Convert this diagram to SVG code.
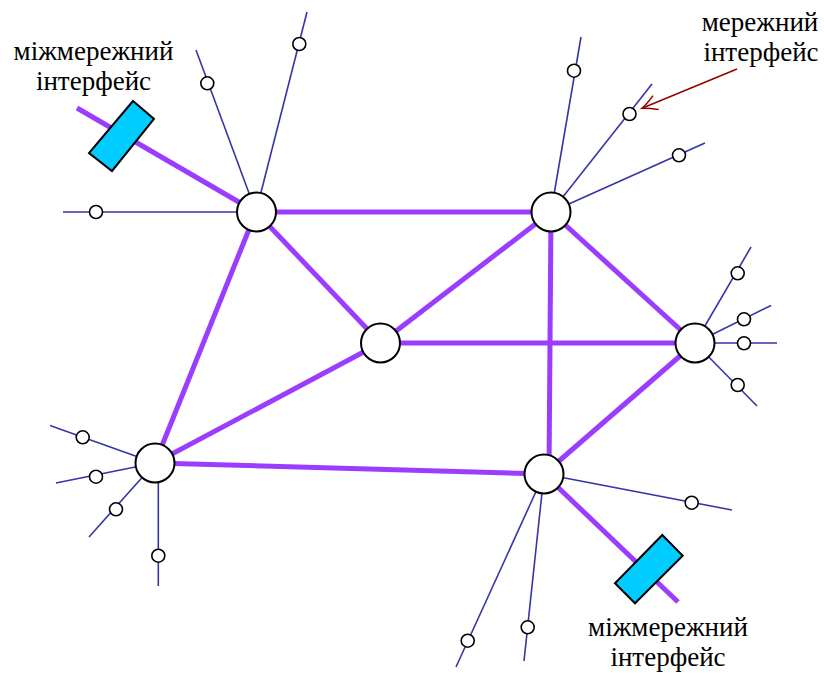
<svg xmlns="http://www.w3.org/2000/svg" width="824" height="673" viewBox="0 0 824 673">
<defs>
<style>
.trunk{stroke:#9b3dff;stroke-width:5;fill:none;stroke-linecap:butt}
.branch{stroke:#3535a8;stroke-width:1.6;fill:none}
.hub{fill:#fff;stroke:#000;stroke-width:2}
.leaf{fill:#fff;stroke:#000;stroke-width:1.6}
.gw{fill:#00ccff;stroke:#000;stroke-width:2}
.ptr{stroke:#990000;stroke-width:1.6;fill:none}
</style>
<marker id="ah" markerUnits="userSpaceOnUse" viewBox="-18 -10 20 20" refX="0" refY="0" markerWidth="20" markerHeight="20" orient="auto" overflow="visible">
<path d="M-15,-7.5 Q-5,-1.5 0,0 Q-5,1.5 -15,7.5" fill="none" stroke="#990000" stroke-width="1.6"/>
</marker>
</defs>
<rect width="824" height="673" fill="#fff"/>
<g id="connectors">
<line class="trunk" x1="256" y1="212" x2="551" y2="212"/>
<line class="trunk" x1="256" y1="212" x2="380.5" y2="343"/>
<line class="trunk" x1="256" y1="212" x2="155" y2="463"/>
<line class="trunk" x1="551" y1="212" x2="380.5" y2="343"/>
<line class="trunk" x1="551" y1="212" x2="695" y2="343"/>
<line class="trunk" x1="551" y1="212" x2="549" y2="474"/>
<line class="trunk" x1="380.5" y1="343" x2="695" y2="343"/>
<line class="trunk" x1="380.5" y1="343" x2="155" y2="463"/>
<line class="trunk" x1="155" y1="463" x2="544" y2="474"/>
<line class="trunk" x1="544" y1="474" x2="695" y2="343"/>
<line class="trunk" x1="256" y1="212" x2="77" y2="108"/>
<line class="trunk" x1="544" y1="474" x2="678" y2="602"/>
<line class="branch" x1="256" y1="212" x2="196" y2="50"/>
<line class="branch" x1="256" y1="212" x2="307" y2="12"/>
<line class="branch" x1="256" y1="212" x2="63" y2="212"/>
<line class="branch" x1="551" y1="212" x2="581" y2="37"/>
<line class="branch" x1="551" y1="212" x2="652" y2="84"/>
<line class="branch" x1="551" y1="212" x2="705" y2="143"/>
<line class="branch" x1="695" y1="343" x2="751" y2="247"/>
<line class="branch" x1="695" y1="343" x2="771" y2="305.5"/>
<line class="branch" x1="695" y1="343" x2="777" y2="343"/>
<line class="branch" x1="695" y1="343" x2="757" y2="406"/>
<line class="branch" x1="155" y1="463" x2="50" y2="425.5"/>
<line class="branch" x1="155" y1="463" x2="56" y2="483"/>
<line class="branch" x1="155" y1="463" x2="89" y2="537"/>
<line class="branch" x1="158.3" y1="470" x2="158.3" y2="586"/>
<line class="branch" x1="544" y1="474" x2="732" y2="510"/>
<line class="branch" x1="544" y1="474" x2="456" y2="667"/>
<line class="branch" x1="544" y1="474" x2="524" y2="661"/>
<line class="ptr" x1="737" y1="69" x2="642" y2="108.3" marker-end="url(#ah)"/>
</g>
<g id="gateway-top"><polygon class="gw" points="133,101 154,119 112,171 89,153"/></g>
<g id="gateway-bottom"><polygon class="gw" points="662.3,535 682.7,555.7 635,603.3 615,583.3"/></g>
<g id="hub-a"><circle class="hub" cx="256.5" cy="212" r="19.5"/></g>
<g id="hub-b"><circle class="hub" cx="551" cy="212" r="19.5"/></g>
<g id="hub-c"><circle class="hub" cx="380.5" cy="343" r="19.5"/></g>
<g id="hub-d"><circle class="hub" cx="695" cy="343" r="19.5"/></g>
<g id="hub-e"><circle class="hub" cx="155" cy="463" r="19.5"/></g>
<g id="hub-f"><circle class="hub" cx="544" cy="474" r="19.5"/></g>
<g id="leaves">
<circle class="leaf" cx="207.3" cy="83.3" r="6.5"/>
<circle class="leaf" cx="299.3" cy="44" r="6.5"/>
<circle class="leaf" cx="96" cy="212" r="6.5"/>
<circle class="leaf" cx="574" cy="70.7" r="6.5"/>
<circle class="leaf" cx="629.5" cy="114" r="6.5"/>
<circle class="leaf" cx="679" cy="155.3" r="6.5"/>
<circle class="leaf" cx="737.7" cy="273.3" r="6.5"/>
<circle class="leaf" cx="744" cy="319.3" r="6.5"/>
<circle class="leaf" cx="744" cy="343.3" r="6.5"/>
<circle class="leaf" cx="737.7" cy="385" r="6.5"/>
<circle class="leaf" cx="82.7" cy="437.3" r="6.5"/>
<circle class="leaf" cx="96" cy="476.7" r="6.5"/>
<circle class="leaf" cx="116" cy="509.3" r="6.5"/>
<circle class="leaf" cx="158.3" cy="555.7" r="6.5"/>
<circle class="leaf" cx="691.7" cy="502.7" r="6.5"/>
<circle class="leaf" cx="467.7" cy="640.7" r="6.5"/>
<circle class="leaf" cx="527.7" cy="627.3" r="6.5"/>
</g>
<g font-family="'Liberation Serif', 'DejaVu Serif', serif" font-size="27" fill="#000" text-anchor="middle">
<g id="label-top-left">
<text x="93.5" y="60">міжмережний</text>
<text x="93.5" y="90">інтерфейс</text>
</g>
<g id="label-top-right">
<text x="760" y="31">мережний</text>
<text x="761" y="61">інтерфейс</text>
</g>
<g id="label-bottom-right">
<text x="668" y="636">міжмережний</text>
<text x="668" y="666">інтерфейс</text>
</g>
</g>
</svg>
